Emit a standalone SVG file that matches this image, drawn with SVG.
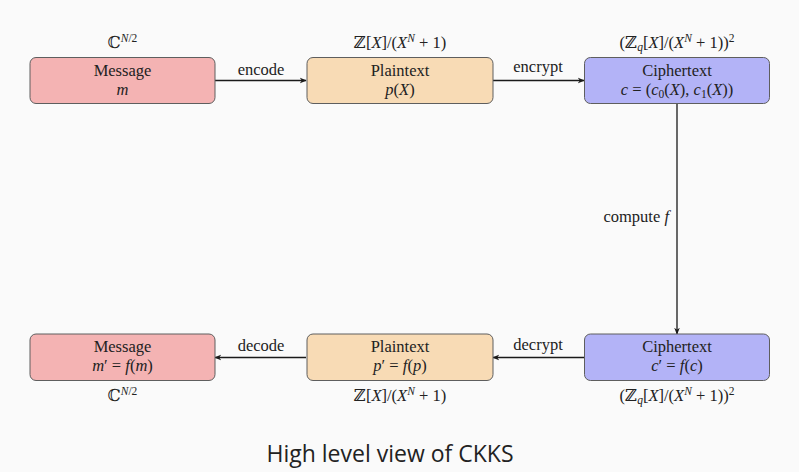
<svg xmlns="http://www.w3.org/2000/svg" width="799" height="472" viewBox="0 0 799 472">
<style>
.bg{fill:#fafafa}
.box{stroke:#5e5e5e;stroke-width:1}
.msg{fill:#f4b3b3}
.pt{fill:#f8dbb5}
.ct{fill:#b3b3f7}
text{font-family:"Liberation Serif","DejaVu Serif",serif;font-size:16.5px;fill:#222;text-anchor:middle}
.i{font-style:italic}
.sup{font-size:11.5px}
.con{stroke:#1a1a1a;stroke-width:1.3;fill:none}
.title{font-family:"Open Sans","Noto Sans",sans-serif;font-size:23px;fill:#222}
</style>
<defs>
<marker id="ah" viewBox="0 0 10 10" refX="9" refY="5" markerWidth="7" markerHeight="7" markerUnits="userSpaceOnUse" orient="auto">
<path d="M0,1 L10,5 L0,9 L3,5 Z" fill="#1a1a1a"/>
</marker>
</defs>
<rect class="bg" x="0" y="0" width="799" height="472"/>

<g id="connectors">
<line class="con" x1="215" y1="80.5" x2="306" y2="80.5" marker-end="url(#ah)"/>
<line class="con" x1="493" y1="80.5" x2="584" y2="80.5" marker-end="url(#ah)"/>
<line class="con" x1="677" y1="104" x2="677" y2="334" marker-end="url(#ah)"/>
<line class="con" x1="584" y1="357.5" x2="493" y2="357.5" marker-end="url(#ah)"/>
<line class="con" x1="306" y1="357.5" x2="215" y2="357.5" marker-end="url(#ah)"/>
<text x="261" y="75">encode</text>
<text x="538" y="72">encrypt</text>
<text x="538" y="350">decrypt</text>
<text x="261" y="351">decode</text>
<text x="669" y="222" style="text-anchor:end">compute <tspan class="i">f</tspan></text>
</g>

<g id="message1">
<rect class="box msg" x="30" y="57.5" width="185" height="46" rx="6"/>
<text x="122.5" y="76">Message</text>
<text x="122.5" y="95" class="i">m</text>
<text x="122.5" y="48">ℂ<tspan class="sup i" dy="-6">N</tspan><tspan class="sup">/2</tspan></text>
</g>

<g id="plaintext1">
<rect class="box pt" x="307" y="57.5" width="186" height="46" rx="6"/>
<text x="400" y="76">Plaintext</text>
<text x="400" y="95"><tspan class="i">p</tspan>(<tspan class="i">X</tspan>)</text>
<text x="400" y="48">ℤ[<tspan class="i">X</tspan>]/(<tspan class="i">X</tspan><tspan class="sup i" dy="-6">N</tspan><tspan dy="6"> + 1)</tspan></text>
</g>

<g id="ciphertext1">
<rect class="box ct" x="584.5" y="57.5" width="185" height="46" rx="6"/>
<text x="677" y="76">Ciphertext</text>
<text x="677" y="95"><tspan class="i">c</tspan> = (<tspan class="i">c</tspan><tspan class="sup" dy="3">0</tspan><tspan dy="-3">(</tspan><tspan class="i">X</tspan>), <tspan class="i">c</tspan><tspan class="sup" dy="3">1</tspan><tspan dy="-3">(</tspan><tspan class="i">X</tspan>))</text>
<text x="677" y="48">(ℤ<tspan class="sup i" dy="3">q</tspan><tspan dy="-3">[</tspan><tspan class="i">X</tspan>]/(<tspan class="i">X</tspan><tspan class="sup i" dy="-6">N</tspan><tspan dy="6"> + 1))</tspan><tspan class="sup" dy="-6">2</tspan></text>
</g>

<g id="message2">
<rect class="box msg" x="30" y="334" width="185" height="46.5" rx="6"/>
<text x="122.5" y="352">Message</text>
<text x="122.5" y="371"><tspan class="i">m</tspan>′ = <tspan class="i">f</tspan>(<tspan class="i">m</tspan>)</text>
<text x="122.5" y="401">ℂ<tspan class="sup i" dy="-6">N</tspan><tspan class="sup">/2</tspan></text>
</g>

<g id="plaintext2">
<rect class="box pt" x="307" y="334" width="186" height="46.5" rx="6"/>
<text x="400" y="352">Plaintext</text>
<text x="400" y="371"><tspan class="i">p</tspan>′ = <tspan class="i">f</tspan>(<tspan class="i">p</tspan>)</text>
<text x="400" y="401">ℤ[<tspan class="i">X</tspan>]/(<tspan class="i">X</tspan><tspan class="sup i" dy="-6">N</tspan><tspan dy="6"> + 1)</tspan></text>
</g>

<g id="ciphertext2">
<rect class="box ct" x="584.5" y="334" width="185" height="46.5" rx="6"/>
<text x="677" y="352">Ciphertext</text>
<text x="677" y="371"><tspan class="i">c</tspan>′ = <tspan class="i">f</tspan>(<tspan class="i">c</tspan>)</text>
<text x="677" y="401">(ℤ<tspan class="sup i" dy="3">q</tspan><tspan dy="-3">[</tspan><tspan class="i">X</tspan>]/(<tspan class="i">X</tspan><tspan class="sup i" dy="-6">N</tspan><tspan dy="6"> + 1))</tspan><tspan class="sup" dy="-6">2</tspan></text>
</g>

<text class="title" x="390" y="462">High level view of CKKS</text>
</svg>
